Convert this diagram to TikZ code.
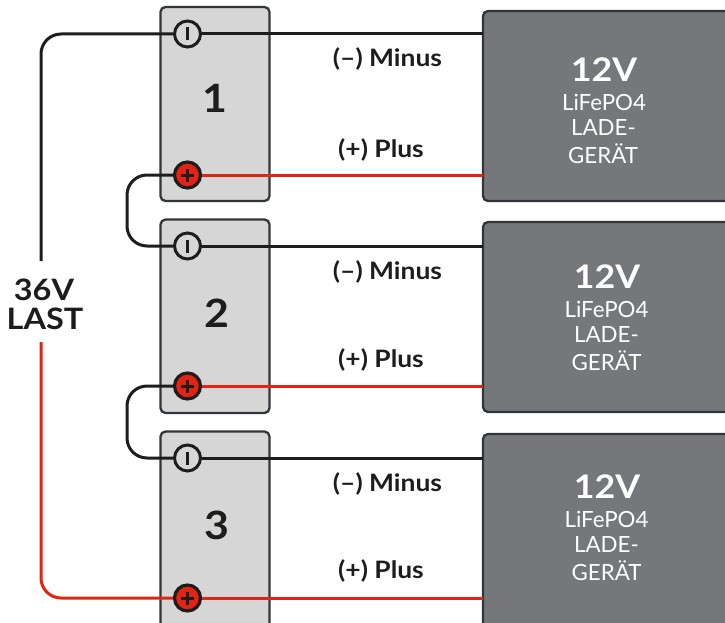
\documentclass[tikz,border=0pt]{standalone}
\usepackage{fontspec}
\setmainfont{Lato}
\newfontfamily\widebold[FakeStretch=1.1,BoldFont={Lato Bold}]{Lato}
\definecolor{ink}{HTML}{1D1D1B}
\definecolor{edge}{HTML}{30363A}
\definecolor{batt}{HTML}{D6D6D6}
\definecolor{chg}{HTML}{76777A}
\definecolor{wire}{HTML}{E42313}
\tikzset{
  battbox/.style={draw=edge,fill=batt,line width=2.3pt,rounded corners=5pt},
  chgbox/.style={draw=edge,fill=chg,line width=2.3pt,rounded corners=5pt},
  blackwire/.style={draw=ink,line width=3pt},
  redwire/.style={draw=wire,line width=3pt},
  negterm/.style={circle,draw=ink,fill=batt,line width=3pt,minimum size=26pt,inner sep=0pt},
  posterm/.style={circle,draw=ink,fill=wire,line width=3.2pt,minimum size=26pt,inner sep=0pt},
  wirelabel/.style={font=\widebold\fontsize{24}{26}\selectfont\bfseries,text=ink,inner sep=0pt},
  minuslabel/.style={font=\widebold\fontsize{24}{26}\selectfont\bfseries,text=ink,inner sep=0pt},
  numlabel/.style={font=\widebold\fontsize{39}{40}\selectfont\bfseries,text=ink,inner sep=0pt},
  voltlabel/.style={font=\widebold\fontsize{32.5}{34}\selectfont\bfseries,text=white,inner sep=0pt},
  chgtext/.style={font=\fontsize{22.3}{24}\selectfont,text=white,inner sep=0pt},
  lastlabel/.style={font=\widebold\fontsize{29.5}{30}\selectfont\bfseries,text=ink,inner sep=0pt},
}
\begin{document}
\begin{tikzpicture}[x=1pt,y=-1pt]
\useasboundingbox (0,0) rectangle (725,623);
\clip (0,0) rectangle (725,623);
% chargers
\path[chgbox] (483,11) rectangle (760,201);
\path[chgbox] (483,222) rectangle (760,412);
\path[chgbox] (483,434) rectangle (760,640);
\coordinate (c1n) at (483,34);
\coordinate (c1p) at (483,175);
\coordinate (c2n) at (483,246);
\coordinate (c2p) at (483,386);
\coordinate (c3n) at (483,458);
\coordinate (c3p) at (483,598);
\coordinate (lt) at (41,261);
\coordinate (lb) at (41,342);
% batteries
\path[battbox] (160.5,7) rectangle (269.5,201);
\path[battbox] (160.5,219.5) rectangle (269.5,413);
\path[battbox] (160.5,431.5) rectangle (269.5,640);
% terminals
\node[negterm] (n1) at (187.5,34) {};
\node[posterm] (p1) at (187.5,175) {};
\node[negterm] (n2) at (187.5,246) {};
\node[posterm] (p2) at (187.5,386) {};
\node[negterm] (n3) at (187.5,458) {};
\node[posterm] (p3) at (187.5,598) {};
% wires
\draw[blackwire] (n1) -- (c1n);
\draw[blackwire] (n2) -- (c2n);
\draw[blackwire] (n3) -- (c3n);
\draw[redwire] (p1) -- (c1p);
\draw[redwire] (p2) -- (c2p);
\draw[redwire] (p3) -- (c3p);
\draw[blackwire,rounded corners=20pt] (p1.west) -- (127,175) -- (127,246) -- (n2.west);
\draw[blackwire,rounded corners=20pt] (p2.west) -- (127,386) -- (127,458) -- (n3.west);
\draw[blackwire,rounded corners=20pt] (n1.west) -- (41,34) -- (lt);
\draw[redwire,rounded corners=20pt] (lb) -- (41,598) -- (p3.west);
% terminal marks
\foreach \t in {n1,n2,n3}{\draw[ink,line width=2.8pt] ([yshift=-6.5pt]\t.center) -- ([yshift=6.5pt]\t.center);}
\foreach \t in {p1,p2,p3}{\draw[ink,line width=3pt] ([yshift=-6.5pt]\t.center) -- ([yshift=6.5pt]\t.center) ([xshift=-6.5pt]\t.center) -- ([xshift=6.5pt]\t.center);}
% battery numbers
\node[numlabel] (b1) at (214.5,98.5) {1};
\node[numlabel] (b2) at (216.5,313.5) {2};
\node[numlabel] (b3) at (216.5,525.5) {3};
% wire labels
\node[minuslabel] (m1) at (387.5,59) {(–) Minus};
\node[minuslabel] (m2) at (387.5,272) {(–) Minus};
\node[minuslabel] (m3) at (387.5,483.5) {(–) Minus};
\node[wirelabel] (q1) at (381,150) {(+) Plus};
\node[wirelabel] (q2) at (381,360) {(+) Plus};
\node[wirelabel] (q3) at (381,571) {(+) Plus};
% charger labels
\node[voltlabel] (v1) at (604,70) {12V};
\node[chgtext] (t11) at (604,102) {LiFePO4};
\node[chgtext] (t12) at (603.5,128) {LADE-};
\node[chgtext] (t13) at (603,154) {GERÄT};
\node[voltlabel] (v2) at (607,277) {12V};
\node[chgtext] (t21) at (606.5,309) {LiFePO4};
\node[chgtext] (t22) at (606.5,335) {LADE-};
\node[chgtext] (t23) at (606.5,361) {GERÄT};
\node[voltlabel] (v3) at (607,487) {12V};
\node[chgtext] (t31) at (606.5,519) {LiFePO4};
\node[chgtext] (t32) at (606.5,545) {LADE-};
\node[chgtext] (t33) at (606.5,571) {GERÄT};
% load label
\node[lastlabel] (l1) at (44,289.5) {36V};
\node[lastlabel] (l2) at (45,318.5) {LAST};
\end{tikzpicture}
\end{document}
